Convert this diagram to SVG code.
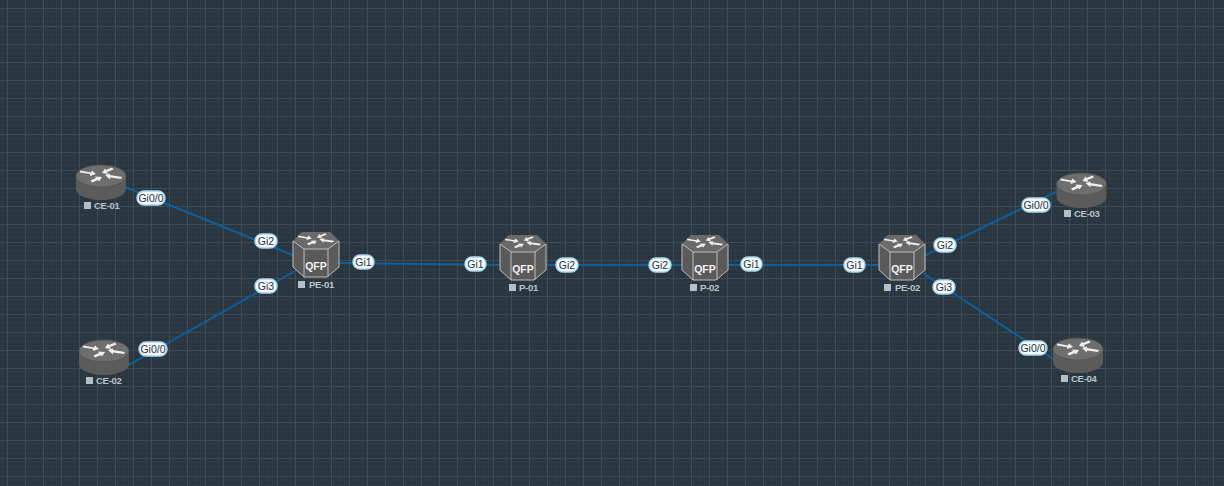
<svg xmlns="http://www.w3.org/2000/svg" width="1224" height="486" viewBox="0 0 1224 486">
<style>
text{font-family:"Liberation Sans",Arial,sans-serif}
.link{stroke:#0e5f9c;stroke-width:2;fill:none}
.pill{fill:#f4fafd;stroke:#a9d6f0;stroke-width:1.500}
.lt{font-size:10.500px;fill:#26323a;text-anchor:middle}
.nm{font-size:9.600px;font-weight:bold;fill:#b8c2c8;letter-spacing:-0.350px}
.sq{fill:#b4c0c6}
.arr{fill:#efefef}
</style>
<defs>
<pattern id="grid" width="18" height="18" patternUnits="userSpaceOnUse" x="7" y="8">
<rect width="18" height="18" fill="#2a363f"/>
<path d="M4.500 0V18M9 0V18M13.500 0V18M0 4.500H18M0 9H18M0 13.500H18" stroke="#303f48" stroke-width="0.500" fill="none"/>
<path d="M0.500 0V18M0 0.500H18" stroke="#3e4e58" stroke-width="1" fill="none"/>
</pattern>
<g id="arrows">
<path class="arr" d="M-21 -5.500L-10 -3.500L-9 -5.500L-5 -2L-11 0L-11 -2L-21 -3.500Z"/>
<path class="arr" d="M11 -8.500L5 -6L4 -7.500L1 -3L7 -2L6 -4L12.500 -6.500Z"/>
<path class="arr" d="M-9 6.500L-3 4L-2 5.500L1 1L-6 0.500L-5 2L-10.500 4.500Z"/>
<path class="arr" d="M4 -1L9 -2.500L9 -1L21 1L20 3L9 1.500L9 3.500Z"/>
</g>
<g id="router">
<path d="M-25 -6V7A25 11 0 0 0 25 7V-6Z" fill="#5b5b5b"/>
<ellipse cx="0" cy="-6" rx="25" ry="11" fill="#6e6e6e" stroke="#525252" stroke-width="0.800"/>
<use href="#arrows" y="-6"/>
</g>
<g id="qfp">
<path d="M-23 -14L-14 -23H14L23 -14V12L11 22H-12L-23 12Z" fill="#5a5a5a"/>
<path d="M-23 -14L-14 -23H14L23 -14L12 -6H-12Z" fill="#6a6a6a"/>
<path d="M-23 -14L-12 -6H12L23 -14M-12 -6V22M12 -6V22" fill="none" stroke="#bdbdbd" stroke-width="1"/>
<path d="M-23 -14V12L-12 22H11L23 12V-14" fill="none" stroke="#bdbdbd" stroke-width="1"/>
<use href="#arrows" transform="translate(0,-15) scale(0.85,0.8)"/>
<text x="0" y="15" font-size="10.500" font-weight="bold" fill="#f2f2f2" text-anchor="middle">QFP</text>
</g>
</defs>
<rect id="bg" width="1224" height="486" fill="url(#grid)"/>
<g id="connectors">
<path class="link" d="M125 187L295 256"/>
<path class="link" d="M127 366L295 271"/>
<path class="link" d="M338 263L501 265"/>
<path class="link" d="M546 265H683"/>
<path class="link" d="M727 265H880"/>
<path class="link" d="M924 256L1060 190"/>
<path class="link" d="M924 274L1058 362"/>
</g>
<g id="link-labels">
<g><rect class="pill" x="137" y="191" width="28" height="14" rx="7"/><text class="lt" x="151" y="202">Gi0/0</text></g>
<g><rect class="pill" x="255" y="234" width="22" height="14" rx="7"/><text class="lt" x="266" y="245">Gi2</text></g>
<g><rect class="pill" x="139" y="342" width="28" height="14" rx="7"/><text class="lt" x="153" y="353">Gi0/0</text></g>
<g><rect class="pill" x="255" y="279" width="22" height="14" rx="7"/><text class="lt" x="266" y="290">Gi3</text></g>
<g><rect class="pill" x="353" y="255" width="21" height="14" rx="7"/><text class="lt" x="363.500" y="266">Gi1</text></g>
<g><rect class="pill" x="465" y="257" width="21" height="14" rx="7"/><text class="lt" x="475.500" y="268">Gi1</text></g>
<g><rect class="pill" x="556" y="258" width="22" height="14" rx="7"/><text class="lt" x="567" y="269">Gi2</text></g>
<g><rect class="pill" x="649" y="258" width="22" height="14" rx="7"/><text class="lt" x="660" y="269">Gi2</text></g>
<g><rect class="pill" x="741" y="257" width="21" height="14" rx="7"/><text class="lt" x="751.500" y="268">Gi1</text></g>
<g><rect class="pill" x="844" y="258" width="21" height="14" rx="7"/><text class="lt" x="854.500" y="269">Gi1</text></g>
<g><rect class="pill" x="934" y="238" width="22" height="14" rx="7"/><text class="lt" x="945" y="249">Gi2</text></g>
<g><rect class="pill" x="933" y="280" width="22" height="14" rx="7"/><text class="lt" x="944" y="291">Gi3</text></g>
<g><rect class="pill" x="1022" y="198" width="28" height="14" rx="7"/><text class="lt" x="1036" y="209">Gi0/0</text></g>
<g><rect class="pill" x="1019" y="341" width="28" height="14" rx="7"/><text class="lt" x="1033" y="352">Gi0/0</text></g>
</g>
<g id="CE-01"><use href="#router" x="101" y="182"/><rect class="sq" x="84" y="202" width="7" height="7"/><text class="nm" x="94" y="209">CE-01</text></g>
<g id="CE-02"><use href="#router" x="104" y="357"/><rect class="sq" x="86" y="377" width="7" height="7"/><text class="nm" x="96" y="384">CE-02</text></g>
<g id="PE-01"><use href="#qfp" x="316" y="255"/><rect class="sq" x="298" y="281" width="7" height="7"/><text class="nm" x="309" y="288">PE-01</text></g>
<g id="P-01"><use href="#qfp" x="523" y="258"/><rect class="sq" x="509" y="284" width="7" height="7"/><text class="nm" x="519" y="291">P-01</text></g>
<g id="P-02"><use href="#qfp" x="705" y="258"/><rect class="sq" x="690" y="284" width="7" height="7"/><text class="nm" x="700" y="291">P-02</text></g>
<g id="PE-02"><use href="#qfp" x="902" y="258"/><rect class="sq" x="884" y="284" width="7" height="7"/><text class="nm" x="895" y="291">PE-02</text></g>
<g id="CE-03"><use href="#router" x="1081.500" y="190"/><rect class="sq" x="1064" y="210" width="7" height="7"/><text class="nm" x="1074" y="217">CE-03</text></g>
<g id="CE-04"><use href="#router" x="1078" y="355"/><rect class="sq" x="1061" y="375" width="7" height="7"/><text class="nm" x="1071" y="382">CE-04</text></g>
</svg>
